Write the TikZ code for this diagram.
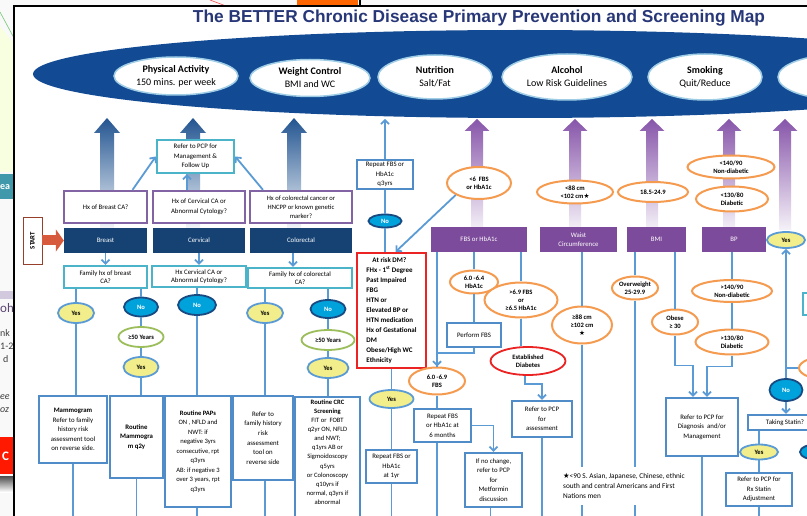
\documentclass[tikz,border=0pt]{standalone}
\usepackage{fontspec}
\setmainfont{Carlito}
\newfontfamily\titlefont{Liberation Sans}
\newfontfamily\symfont{DejaVu Sans}
\usetikzlibrary{arrows.meta,positioning,calc,shapes.geometric}

\definecolor{titleblue}{RGB}{40,55,120}
\definecolor{bannerblue}{RGB}{18,74,148}
\definecolor{bannerrim}{RGB}{160,205,230}
\definecolor{linkblue}{RGB}{91,155,213}
\definecolor{stepblue}{RGB}{80,140,200}
\definecolor{tealrim}{RGB}{75,180,200}
\definecolor{purplerim}{RGB}{130,100,165}
\definecolor{navybox}{RGB}{22,66,115}
\definecolor{purplebox}{RGB}{125,75,155}
\definecolor{orangerim}{RGB}{245,155,80}
\definecolor{yesfill}{RGB}{242,238,140}
\definecolor{nofill}{RGB}{0,162,220}
\definecolor{norim}{RGB}{25,75,130}
\definecolor{agerim}{RGB}{155,190,90}
\definecolor{riskred}{RGB}{235,35,35}
\definecolor{startred}{RGB}{215,90,60}
\definecolor{arrowblue}{RGB}{35,85,145}
\definecolor{arrowpurple}{RGB}{135,85,170}

\begin{document}
\begin{tikzpicture}[
  x=1pt, y=-1pt,
  font=\fontsize{6.8}{9.6}\selectfont,
  wh/.style 2 args={minimum width=#1pt, minimum height=#2pt},
  box/.style={draw=stepblue, line width=2.4pt, fill=white, align=center, inner sep=1pt},
  hxbox/.style={draw=purplerim, line width=2.2pt, fill=white, align=center, inner sep=1pt},
  famq/.style={draw=tealrim, line width=2.4pt, fill=white, align=center, inner sep=1pt},
  cancer/.style={fill=navybox, text=white, align=center, inner sep=1pt},
  factor/.style={fill=purplebox, text=white, align=center, inner sep=1pt},
  oval/.style={ellipse, line width=1.8pt, align=center, inner sep=0pt, font=\fontsize{6.6}{8.2}\selectfont\bfseries},
  yesov/.style={oval, draw=linkblue, fill=yesfill},
  noov/.style={oval, draw=norim, fill=nofill, text=white},
  ageov/.style={oval, draw=agerim, fill=white},
  goalov/.style={oval, draw=orangerim, line width=2pt, fill=white},
  banner/.style={ellipse, draw=bannerrim, line width=1.5pt, fill=white, align=center, inner sep=0pt, font=\fontsize{10}{13}\selectfont},
  link/.style={draw=linkblue, line width=1.8pt},
  arrow/.style={link, -{Straight Barb[length=4pt, width=8pt]}}
]
\useasboundingbox (0,0) rectangle (807,516);

% backdrop pages behind the map
\fill[gray!5] (0,0) rectangle (807,6);
\fill[gray!5] (0,0) rectangle (14,516);
\draw[red!70, line width=0.6pt] (210,0) -- (226,6);
\fill[orange!80!red] (297,0) rectangle (358,5);
\draw[black, line width=1.5pt] (360,0) -- (360,6);
\fill[green!25!yellow!12] (0,26) -- (14,44) -- (14,172) -- (0,172) -- cycle;
\draw[green!60!black!50, line width=0.7pt] (0,12) -- (14,38);
\fill[tealrim!85!black] (0,174) rectangle (14,199);
\node[anchor=west, text=white, font=\bfseries\fontsize{10}{10}\selectfont, inner sep=0pt] (bgea) at (0,187) {ea};
\fill[purplerim!35] (0,291) rectangle (14,299);
\node[anchor=west, text=purplerim!70!black, font=\fontsize{13}{13}\selectfont, inner sep=0pt] (bgoh) at (0,308) {oh};
\node[anchor=west, text=black!75, font=\fontsize{10}{10}\selectfont, inner sep=0pt] (bgnk) at (0,333) {nk};
\node[anchor=west, text=black!75, font=\fontsize{10}{10}\selectfont, inner sep=0pt] (bgyr) at (0,346) {1-2};
\node[anchor=west, text=black!75, font=\fontsize{10}{10}\selectfont, inner sep=0pt] (bgd) at (3,359) {d};
\node[anchor=west, text=black!75, font=\itshape\fontsize{10}{10}\selectfont, inner sep=0pt] (bgee) at (0,397) {ee};
\node[anchor=west, text=black!75, font=\itshape\fontsize{10}{10}\selectfont, inner sep=0pt] (bgoz) at (0,410) {oz};
\fill[red!80!orange] (0,437) rectangle (14,474);
\node[anchor=west, text=white, font=\bfseries\fontsize{13}{13}\selectfont, inner sep=0pt] (bgc) at (2,456) {C};
\shade[top color=black!70, bottom color=white] (0,476) rectangle (14,492);

% the map sheet
\draw[black, line width=2.5pt, fill=white] (14,6) rectangle (830,530);
\node[font=\titlefont\bfseries\fontsize{17.3}{20}\selectfont, text=titleblue] (title) at (479,18) {The BETTER Chronic Disease Primary Prevention and Screening Map};

% lifestyle banner
\fill[bannerblue] (520,74) ellipse [x radius=487pt, y radius=44pt];
\node[banner, wh={124}{38}] (pa) at (176,76) {\textbf{Physical Activity}\\150 mins. per week};
\node[banner, wh={120}{37}] (wc) at (310,78) {\textbf{Weight Control}\\BMI and WC};
\node[banner, wh={114}{44}] (nut) at (435,77) {\textbf{Nutrition}\\Salt/Fat};
\node[banner, wh={130}{46}] (alc) at (567,77) {\textbf{Alcohol}\\Low Risk Guidelines};
\node[banner, wh={114}{46}] (smk) at (705,77) {\textbf{Smoking}\\Quit/Reduce};
\node[banner, wh={124}{45}] (nextgoal) at (840,77) {};

% big upward arrows
\foreach \ax in {107,193,294}
  \shade[top color=arrowblue, bottom color=arrowblue!6] ({\ax-7},228) -- ({\ax-7},133) -- ({\ax-13},133) -- (\ax,118) -- ({\ax+13},133) -- ({\ax+7},133) -- ({\ax+7},228) -- cycle;
\foreach \ax in {477,575,652,729,785}
  \shade[top color=arrowpurple, bottom color=arrowpurple!8] ({\ax-6},230) -- ({\ax-6},131) -- ({\ax-12.5},131) -- (\ax,119) -- ({\ax+12.5},131) -- ({\ax+6},131) -- ({\ax+6},230) -- cycle;

% cancer screening
\node[draw=startred!70!black, line width=0.8pt, fill=white, wh={19}{47}, inner sep=0pt] (start) at (32.5,240.5) {\rotatebox{90}{\bfseries START}};
\node[famq, wh={77}{33}] (pcp) at (195.5,156.5) {Refer to PCP for\\Management \&\\Follow Up};
\node[hxbox, wh={83}{32}] (hxb) at (105.5,207) {Hx of Breast CA?};
\node[hxbox, wh={92}{32}] (hxcv) at (199,207) {Hx of Cervical CA or\\Abnormal Cytology?};
\node[hxbox, wh={102}{32}, font=\fontsize{6.6}{9}\selectfont] (hxcr) at (301,207) {Hx of colorectal cancer or\\HNCPP or known genetic\\marker?};
\node[cancer, wh={83}{25}] (breast) at (105.5,240.5) {Breast};
\node[cancer, wh={92}{25}] (cerv) at (199,240.5) {Cervical};
\node[cancer, wh={102}{25}] (colo) at (301,240.5) {Colorectal};
\node[famq, wh={83}{22}, font=\fontsize{6.8}{8.5}\selectfont] (famb) at (105.5,277) {Family hx of breast\\CA?};
\node[famq, wh={94}{21}, font=\fontsize{6.8}{8.5}\selectfont] (famcv) at (199,276.5) {Hx Cervical CA or\\Abnormal Cytology?};
\node[famq, wh={104}{20}, font=\fontsize{6.8}{8.5}\selectfont] (famcr) at (300,278) {Family hx of colorectal\\CA?};

\node[yesov, wh={36}{20}] (yes1) at (76,313) {Yes};
\node[noov, wh={34}{19}] (no1) at (141,307) {No};
\node[ageov, wh={45}{20}] (age1) at (141,337) {≥50 Years};
\node[yesov, wh={35}{20}] (yes2) at (141,367) {Yes};
\node[noov, wh={38}{20}] (no2) at (197,305) {No};
\node[yesov, wh={36}{20}] (yes3) at (265,313) {Yes};
\node[noov, wh={35}{18}] (no3) at (328,309) {No};
\node[ageov, wh={53}{20}] (age3) at (328,340) {≥50 Years};
\node[yesov, wh={41}{20}] (yes4) at (328,368) {Yes};

\node[box, wh={68}{67}] (mammo) at (73,429.5) {\textbf{Mammogram}\\Refer to family\\history risk\\assessment tool\\on reverse side.};
\node[box, wh={53}{82}] (rmammo) at (136.5,437) {\textbf{Routine}\\\textbf{Mammogra}\\\textbf{m q2y}};
\node[box, wh={66}{111}, font=\fontsize{6.6}{9.5}\selectfont] (paps) at (198,451.5) {\textbf{Routine PAPs}\\ON , NFLD and\\NWT: if\\negative 3yrs\\consecutive, rpt\\q3yrs\\AB: if negative 3\\over 3 years, rpt\\q3yrs};
\node[box, wh={60}{84}] (fhref) at (263,438) {Refer to\\family history\\risk\\assessment\\tool on\\reverse side};
\node[box, wh={65}{10}, anchor=north, inner ysep=2.5pt, font=\fontsize{6.6}{9.1}\selectfont] (crc) at (327.5,396) {\textbf{Routine CRC}\\\textbf{Screening}\\FIT or~ FOBT\\q2yr ON, NFLD\\and NWT;\\q1yrs AB or\\Sigmoidoscopy\\q5yrs\\or Colonoscopy\\q10yrs if\\normal, q3yrs if\\abnormal\\[8pt]\strut};

% diabetes and risk factors
\node[box, wh={56}{29}] (rep3) at (385,174.5) {Repeat FBS or\\HbA1c\\q3yrs};
\node[noov, wh={33}{13}] (noA) at (385,221) {No};
\node[draw=riskred, line width=2.2pt, fill=white, wh={69}{115}, align=left, inner sep=2pt, font=\bfseries\fontsize{7}{10}\selectfont] (dmrisk) at (391.5,310.5) {\hspace*{6pt}At risk DM?\\FHx - 1\textsuperscript{st} Degree\\Past Impaired\\FBG\\HTN or\\Elevated BP or\\HTN medication\\Hx of Gestational\\DM\\Obese/High WC\\Ethnicity};
\node[yesov, wh={44}{18}] (yesB) at (391.5,399) {Yes};
\node[box, wh={51}{33}] (rep1y) at (391.5,466.5) {Repeat FBS or\\HbA1c\\at 1yr};

\node[factor, wh={96}{25}] (fbs) at (479,239.5) {FBS or HbA1c};
\node[factor, wh={77}{25}] (waist) at (578.5,239.5) {Waist\\Circumference};
\node[factor, wh={59}{25}] (bmi) at (656.5,239.5) {BMI};
\node[factor, wh={64}{25}] (bp) at (734,239.5) {BP};
\node[yesov, wh={38}{16}] (yesR) at (786,240) {Yes};

\node[goalov, wh={64}{32}] (lt6) at (479,183) {<6~~FBS\\or HbA1c};
\node[goalov, wh={76}{23}] (lt88) at (575,192) {<88 cm\\<102 cm{\symfont ★}};
\node[goalov, wh={70}{20}] (bmin) at (653,192) {18.5-24.9};
\node[goalov, wh={87}{23}] (lt140) at (731,167) {<140/90\\Non-diabetic};
\node[goalov, wh={72}{25}] (lt130) at (732,199) {<130/80\\Diabetic};

\node[goalov, wh={48}{23}] (f64) at (474,282) {6.0 -6.4\\HbA1c};
\node[box, wh={54}{24}] (perf) at (474,335) {Perform FBS};
\node[goalov, wh={73}{35}] (gt69) at (521,300) {>6.9 FBS\\or\\≥6.5 HbA1c};
\node[oval, draw=riskred, fill=white, wh={75}{28}] (estd) at (528,361) {Established\\Diabetes};
\node[goalov, wh={56}{27}] (f69) at (437,381) {6.0 -6.9\\FBS};
\node[box, wh={57}{33}] (rep6) at (442.5,425.5) {Repeat FBS\\or HbA1c at\\6 months};
\node[box, wh={57}{54}] (nochg) at (493.5,480) {If no change,\\refer to PCP\\for\\Metformin\\discussion};
\node[box, wh={60}{36}] (refA) at (542,419) {Refer to PCP\\for\\assessment};

\node[goalov, wh={60}{37}] (ge88) at (582,325) {≥88 cm\\≥102 cm\\{\symfont ★}};
\node[goalov, wh={46}{23}] (ow) at (635,288) {Overweight\\25-29.9};
\node[goalov, wh={46}{25}] (ob) at (675,322) {Obese\\≥ 30};
\node[goalov, wh={80}{22}] (gt140) at (732,291) {>140/90\\Non-diabetic};
\node[goalov, wh={73}{25}] (gt130) at (732,342) {>130/80\\Diabetic};
\node[box, wh={72}{58}] (dxm) at (702,427) {Refer to PCP for\\Diagnosis~ and/or\\Management};

\node[famq, wh={24}{22}] (sidebox) at (815,304) {};
\node[goalov, wh={62}{24}] (ldl) at (830,368) {};
\coordinate (jn) at (786,368);
\node[noov, wh={33}{22}] (noR) at (786,390) {No};
\node[box, wh={74}{15}] (statin) at (785,422.5) {Taking Statin?};
\node[yesov, wh={38}{15}] (yesS) at (759,452) {Yes};
\node[noov, wh={36}{16}] (noS) at (818,452) {};
\node[box, wh={66}{33}] (rxs) at (759,489.5) {Refer to PCP for\\Rx Statin\\Adjustment};

% connectors
\draw[startred, line width=10pt, -{Triangle[length=8pt, width=22pt]}] (start) -- (breast);
\draw[arrow] ([xshift=27pt]hxb.north) -- (pcp.west);
\draw[arrow] ([xshift=-12pt]hxcv.north) -- ([xshift=-8.5pt]pcp.south);
\draw[arrow] ([xshift=-38pt]hxcr.north) -- (pcp.east);
\draw[arrow] (breast) -- (famb);
\draw[arrow] (cerv) -- (famcv);
\draw[arrow] ([xshift=-8pt]colo.south) -- ([xshift=-7pt]famcr.north);

\draw[link] (famb.south -| yes1) -- (yes1);
\draw[link] (yes1) -- (yes1 |- mammo.north);
\draw[link] (mammo.south) -- +(0,80);
\draw[link] (famb.south -| no1) -- (no1);
\draw[link] (no1) -- (age1);
\draw[link] (age1) -- (yes2);
\draw[link] (yes2) -- (yes2 |- rmammo.north);
\draw[link] (rmammo.south) -- +(0,80);
\draw[link] (famcv.south -| no2) -- (no2);
\draw[link] (no2) -- (no2 |- paps.north);
\draw[link] (paps.south -| no2) -- +(0,80);
\draw[link] (famcr.south -| yes3) -- (yes3);
\draw[link] (yes3) -- (yes3 |- fhref.north);
\draw[link] (fhref.south -| yes3) -- +(0,80);
\draw[link] (famcr.south -| no3) -- (no3);
\draw[link] (no3) -- (age3);
\draw[link] (age3) -- (yes4);
\draw[link] (yes4) -- (yes4 |- crc.north);

\draw[arrow] (rep3.north) -- +(0,-40);
\draw[link] (rep3) -- (noA);
\draw[link] (noA) -- (noA |- dmrisk.north);
\draw[arrow] (lt6.south west) -- ([xshift=4pt]dmrisk.north);
\draw[link] (dmrisk) -- (yesB);
\draw[link] (yesB) -- (rep1y);
\draw[link] (rep1y.south) -- +(0,80);

\draw[arrow] (fbs.south -| f69) -- (f69);
\draw[link] (fbs.south -| f64) -- (f64);
\draw[link] (f64) -- (perf);
\draw[link] (perf.south) -- ++(0,5) -| (f69.north);
\draw[link] (fbs.south -| gt69) -- (gt69);
\draw[link] (gt69) -- (gt69 |- estd.north);
\draw[arrow] ([xshift=-3pt]estd.south) -- ++(0,8) -| (refA.north);
\draw[link] (refA.south) -- +(0,100);
\draw[link] (f69) -- (f69 |- rep6.north);
\draw[arrow] (rep6.east) -| (nochg.north);
\draw[link] (rep6.south -| f69) -- +(0,100);
\draw[link] ([xshift=-3pt]nochg.south) -- +(0,80);

\draw[link] (waist.south -| ge88) -- (ge88);
\draw[link] (ge88) -- +(0,200);
\draw[link] (bmi.south -| ow) -- (ow);
\draw[link] (ow) -- +(0,250);
\draw[link] (bmi.south -| ob) -- (ob);
\draw[arrow] (ob.south) -- ++(0,30) -| ([xshift=-9pt]dxm.north);
\draw[link] (bp.south -| gt140) -- (gt140);
\draw[link] (gt140) -- (gt130);
\draw[arrow] (gt130.south) -- ++(0,11) -| ([xshift=5pt]dxm.north);
\draw[link] (dxm.south) -- +(0,80);

\draw[link] (ldl.west) -- (jn);
\draw[arrow] (jn) -- (yesR);
\draw[link] (jn) -- (noR);
\draw[arrow] (noR) -- (noR |- statin.north);
\draw[link] (statin.south -| yesS) -- (yesS);
\draw[link] (yesS) -- (rxs);
\draw[link] (rxs.south) -- +(0,80);

% footnote over the lines
\node[fill=white, anchor=north west, align=left, inner sep=1pt, minimum height=38pt, font=\fontsize{7.3}{10}\selectfont] (note) at (562,467) {{\symfont ★}<90 S. Asian, Japanese, Chinese, ethnic\\south and central Americans and First\\Nations men};

\end{tikzpicture}
\end{document}
